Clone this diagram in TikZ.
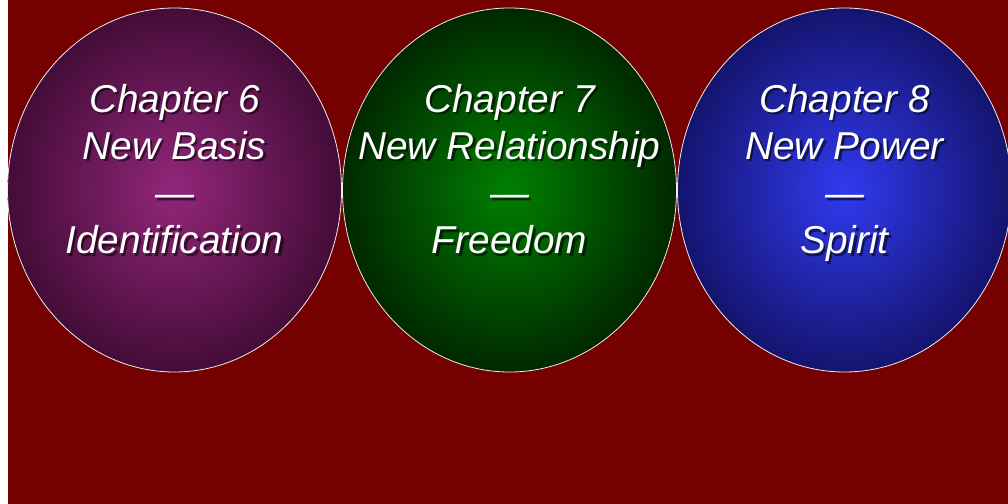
\documentclass[tikz,border=0pt]{standalone}
\usepackage{fontspec}
\setmainfont{Liberation Sans}
\usetikzlibrary{shapes.geometric,positioning}
\definecolor{mymaroon}{RGB}{117,0,0}
\definecolor{mypurplein}{RGB}{146,38,122}
\definecolor{mypurpleout}{RGB}{68,12,56}
\definecolor{mygreenin}{RGB}{0,128,0}
\definecolor{mygreenout}{RGB}{0,40,0}
\definecolor{mybluein}{RGB}{48,58,240}
\definecolor{myblueout}{RGB}{20,20,110}
\tikzstyle{chapter}=[draw=white!85!gray,line width=0.8bp,ellipse,minimum width=334bp,minimum height=364bp,inner sep=0pt,shading=radial]
\tikzstyle{chaptext}=[text=white,font=\itshape\fontsize{39}{47.3}\selectfont,align=center,inner sep=0pt,anchor=north]
\tikzstyle{chapshadow}=[chaptext,text=black,text opacity=0.55]

\begin{document}
\begin{tikzpicture}[x=1bp,y=-1bp]
\useasboundingbox (0,0) rectangle (1008,504);
\fill[white] (0,0) rectangle (8,504);
\fill[mymaroon] (8,0) rectangle (1008,504);
\node [chapter,inner color=mypurplein,outer color=mypurpleout] (c6) at (174.5,190) {};
\node [chapter,inner color=mygreenin,outer color=mygreenout] (c7) at (509.5,190) {};
\node [chapter,inner color=mybluein,outer color=myblueout] (c8) at (844.5,190) {};
% shadows first, then the white text
\node [chapshadow] at ([xshift=2.5bp,yshift=106bp-2.5bp]c6.center) {Chapter 6\\New Basis\\—\\Identification};
\node [chapshadow] at ([xshift=2.5bp,yshift=106bp-2.5bp]c7.center) {Chapter 7\\New Relationship\\—\\Freedom};
\node [chapshadow] at ([xshift=2.5bp,yshift=106bp-2.5bp]c8.center) {Chapter 8\\New Power\\—\\Spirit};
\node [chaptext] (t6) at ([yshift=106bp]c6.center) {Chapter 6\\New Basis\\—\\Identification};
\node [chaptext] (t7) at ([yshift=106bp]c7.center) {Chapter 7\\New Relationship\\—\\Freedom};
\node [chaptext] (t8) at ([yshift=106bp]c8.center) {Chapter 8\\New Power\\—\\Spirit};
\end{tikzpicture}
\end{document}
